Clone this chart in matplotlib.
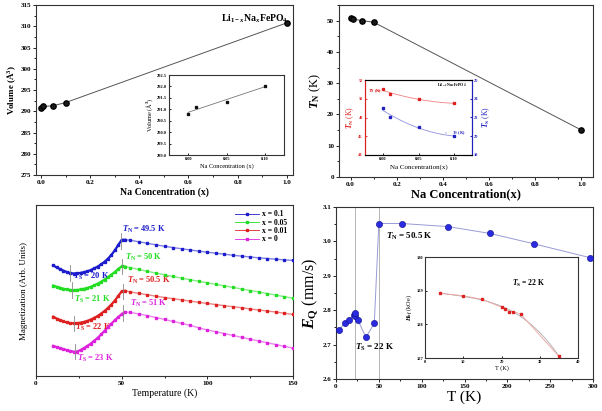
import numpy as np
import matplotlib
matplotlib.use("Agg")
import matplotlib.pyplot as plt
from matplotlib.ticker import AutoMinorLocator, MultipleLocator

plt.rcParams['font.family'] = ['Liberation Serif', 'DejaVu Serif']
plt.rcParams['font.weight'] = 'bold'
plt.rcParams['mathtext.fontset'] = 'custom'
plt.rcParams['mathtext.rm'] = 'Liberation Serif:bold'
plt.rcParams['mathtext.it'] = 'Liberation Serif:italic:bold'
plt.rcParams['mathtext.bf'] = 'Liberation Serif:bold'
plt.rcParams['axes.linewidth'] = 0.8

# ---------------- Data ----------------
# (a) Volume vs Na concentration
na_x = [0.0, 0.01, 0.05, 0.10, 1.0]
volume = [290.8, 291.12, 291.31, 292.03, 310.8]
ins_x = [0.0, 0.01, 0.05, 0.10]
ins_vol = [290.8, 291.12, 291.31, 292.03]

# (b) T_N vs Na concentration
tn_x = [0.0, 0.01, 0.05, 0.10, 1.0]
tn_val = [51.0, 50.5, 50.0, 49.5, 15.0]
ins_tn_x = [0.0, 0.01, 0.05, 0.10]
ins_tn = [51.0, 50.5, 50.0, 49.5]
ins_ts = [23.0, 22.0, 21.0, 20.0]

# (c) Magnetization curves
T_low = [10, 12, 14, 16, 18, 20, 22, 24, 26, 28, 30, 32, 34, 36, 38, 40, 42, 44, 46, 48, 50, 52]
T_high = [55, 60, 65, 70, 75, 80, 85, 90, 95, 100, 105, 110, 115, 120, 125, 130, 135, 140, 145, 150]
M_01_low = [64.7, 63.5, 62.5, 61.6, 60.8, 60.2, 59.9, 60.0, 60.3, 60.7, 61.2, 62.0, 62.9, 64.0, 65.3, 66.8, 68.6, 70.8, 73.5, 76.6, 79.6, 79.7]
M_01_high = [79.4, 78.5, 77.6, 76.7, 75.9, 75.1, 74.4, 73.7, 73.0, 72.4, 71.8, 71.2, 70.6, 70.1, 69.6, 69.1, 68.7, 68.3, 67.9, 67.6]
M_005_low = [52.9, 52.2, 51.6, 51.0, 50.6, 50.3, 50.2, 50.3, 50.6, 51.0, 51.5, 52.2, 53.0, 54.0, 55.1, 56.4, 57.8, 59.3, 60.8, 62.5, 64.1, 64.0]
M_005_high = [63.4, 62.3, 61.2, 60.2, 59.2, 58.2, 57.2, 56.3, 55.4, 54.5, 53.6, 52.7, 51.8, 50.9, 50.0, 49.1, 48.2, 47.3, 46.4, 45.5]
M_001_low = [34.7, 33.6, 32.7, 31.9, 31.3, 30.9, 30.8, 30.9, 31.2, 31.6, 32.2, 33.0, 34.0, 35.1, 36.5, 38.0, 39.8, 41.8, 44.1, 46.8, 49.5, 49.8]
M_001_high = [49.2, 48.3, 47.5, 46.7, 45.9, 45.2, 44.5, 43.8, 43.1, 42.4, 41.8, 41.1, 40.5, 39.9, 39.2, 38.6, 38.0, 37.4, 36.7, 36.0]
M_0_low = [17.6, 16.9, 16.3, 15.7, 15.1, 14.6, 14.2, 14.3, 15.2, 16.3, 17.6, 19.0, 20.6, 22.3, 24.3, 26.4, 28.5, 30.6, 32.6, 34.4, 36.2, 37.4]
M_0_high = [37.2, 36.3, 35.3, 34.2, 33.1, 31.9, 30.8, 29.6, 28.2, 26.9, 25.9, 24.8, 23.7, 22.6, 21.5, 20.5, 19.4, 18.4, 17.3, 16.3]
c_labels = ['x = 0.1', 'x = 0.05', 'x = 0.01', 'x = 0']
c_colors = ['#1c1ccc', '#22dd22', '#dd2020', '#dd22dd']
c_TN = [49.5, 50, 50.5, 51]
c_TS = [20, 21, 22, 23]

# (d) Quadrupole splitting
d_T = [4, 10, 15, 20.5, 21.6, 22.3, 25.4, 35, 44.7, 50, 77, 131, 180, 231, 296]
d_EQ = [2.743, 2.762, 2.771, 2.785, 2.782, 2.791, 2.772, 2.721, 2.762, 3.052, 3.052, 3.043, 3.023, 2.993, 2.953]
d_vlines = [22, 50]
ins_d_T = [4, 10, 15, 20, 21, 22, 23, 25, 35]
ins_d_H = [128.92, 128.85, 128.74, 128.51, 128.45, 128.38, 128.38, 128.31, 127.05]

# ---------------- Figure ----------------
W, H = 602, 411
fig = plt.figure(figsize=(W / 100, H / 100), dpi=100)


def rect(l, t, r, b):
    return [l / W, 1 - b / H, (r - l) / W, (b - t) / H]


def style(ax, fs=5, direction='out', length=2.0):
    ax.tick_params(which='both', direction=direction, labelsize=fs, width=0.6, pad=1.5)
    ax.tick_params(which='major', length=length)
    ax.tick_params(which='minor', length=length * 0.6)
    for s in ax.spines.values():
        s.set_color('#333333')
    for lab in ax.get_xticklabels() + ax.get_yticklabels():
        lab.set_fontweight('bold')


# ---- (a)
axA = fig.add_axes(rect(36, 5, 293, 175))
axA.plot(na_x, volume, '-', color='#555555', lw=0.7, zorder=2)
axA.plot(na_x, volume, 'o', color='#1a1a1a', mec='#000000', ms=3.8, zorder=3)
axA.set_xlim(-0.02, 1.025)
axA.set_ylim(275, 315)
axA.xaxis.set_major_locator(MultipleLocator(0.2))
axA.yaxis.set_major_locator(MultipleLocator(5))
axA.xaxis.set_minor_locator(AutoMinorLocator(2))
axA.yaxis.set_minor_locator(AutoMinorLocator(2))
style(axA)
axA.set_xlabel('Na Concentration (x)', fontsize=7, fontweight='bold', labelpad=2)
axA.set_ylabel('Volume (Å$^3$)', fontsize=6.5, fontweight='bold', labelpad=2)
axA.text(0.87, 311.8, 'Li$_{1-x}$Na$_x$FePO$_4$', fontsize=7, ha='center', va='center')

axAi = fig.add_axes(rect(169, 75, 284, 155))
coef = np.polyfit(ins_x, ins_vol, 1)
xx = np.array([min(ins_x), max(ins_x)])
axAi.plot(xx, np.polyval(coef, xx), '-', color='#777777', lw=0.6)
axAi.plot(ins_x, ins_vol, 's', color='#111111', ms=1.6)
axAi.set_xlim(-0.025, 0.125)
axAi.set_ylim(289.0, 292.5)
axAi.set_xticks([0.0, 0.05, 0.10])
axAi.set_xticklabels(['0.00', '0.05', '0.10'])
axAi.yaxis.set_major_locator(MultipleLocator(0.5))
axAi.yaxis.set_major_formatter(matplotlib.ticker.FormatStrFormatter('%.1f'))
style(axAi, fs=3.2, direction='in', length=1.5)
axAi.set_xlabel('Na Concentration (x)', fontsize=4.5, labelpad=1.5)
axAi.set_ylabel('Volume (Å$^3$)', fontsize=4.5, labelpad=1.5)

# ---- (b)
axB = fig.add_axes(rect(339, 5, 593, 177))
axB.plot(tn_x, tn_val, '-', color='#555555', lw=0.7, zorder=2)
axB.plot(tn_x, tn_val, 'o', color='#1a1a1a', mec='#000000', ms=3.8, zorder=3)
axB.set_xlim(-0.05, 1.05)
axB.set_ylim(0, 55)
axB.xaxis.set_major_locator(MultipleLocator(0.2))
axB.yaxis.set_major_locator(MultipleLocator(10))
axB.xaxis.set_minor_locator(AutoMinorLocator(2))
axB.yaxis.set_minor_locator(AutoMinorLocator(2))
style(axB)
axB.set_xlabel('Na Concentration(x)', fontsize=9, fontweight='bold', labelpad=1)
axB.set_ylabel('$T_\\mathrm{N}$ (K)', fontsize=9, labelpad=3)

axBi = fig.add_axes(rect(365, 80, 472, 155))
c1 = np.polyfit(ins_tn_x, ins_tn, 2)
c2 = np.polyfit(ins_tn_x, ins_ts, 2)
xs = np.linspace(min(ins_tn_x), max(ins_tn_x), 60)
axBi.plot(xs, np.polyval(c1, xs), '-', color='#f08080', lw=0.6)
axBi.plot(ins_tn_x, ins_tn, 's', color='#dd2020', ms=1.6)
axBi.set_xlim(-0.025, 0.125)
axBi.set_ylim(44, 52)
axBi.set_yticks([44, 46, 48, 50, 52])
axBi.set_xticks([0.0, 0.05, 0.10])
axBi.set_xticklabels(['0.00', '0.05', '0.10'])
style(axBi, fs=3.2, direction='in', length=1.5)
axBi.tick_params(axis='y', colors='#dd2020')
axBi.spines['left'].set_color('#dd2020')
axBi.set_ylabel('$T_\\mathrm{N}$ (K)', fontsize=5.5, color='#dd2020', labelpad=1.5)
axBi.set_xlabel('Na Concentration(x)', fontsize=5, labelpad=2)
axBr = axBi.twinx()
axBr.plot(xs, np.polyval(c2, xs), '-', color='#9090e0', lw=0.6)
axBr.plot(ins_tn_x, ins_ts, 's', color='#2020c0', ms=1.6)
axBr.set_ylim(18, 26)
axBr.set_yticks([18, 20, 22, 24, 26])
axBr.tick_params(axis='y', which='both', direction='in', labelsize=3.2, colors='#2020c0', length=1.5, pad=1.5)
axBr.spines['right'].set_color('#2020c0')
axBr.spines['left'].set_color('#dd2020')
axBr.set_ylabel('$T_\\mathrm{S}$ (K)', fontsize=5.5, color='#2020c0', labelpad=1.5)
axBi.text(0.118, 51.4, 'Li$_{1-x}$Na$_x$FePO$_4$', fontsize=3, ha='right', va='center')
axBi.annotate('$T_\\mathrm{N}$ (K)', xy=(ins_tn_x[0] - 0.004, ins_tn[0] - 0.15),
              xytext=(-0.021, ins_tn[0] - 0.15), fontsize=3.2, color='#dd2020', va='center',
              arrowprops=dict(arrowstyle='-', color='#dd2020', lw=0.4))
axBr.annotate('$T_\\mathrm{S}$ (K)', xy=(0.088, ins_ts[-1] + 0.35),
              xytext=(0.097, ins_ts[-1] + 0.35), fontsize=3.2, color='#2020c0', va='center',
              arrowprops=dict(arrowstyle='-', color='#2020c0', lw=0.4))

# ---- (c)
axC = fig.add_axes(rect(36, 205, 293, 376))
series = [(M_01_low, M_01_high), (M_005_low, M_005_high), (M_001_low, M_001_high), (M_0_low, M_0_high)]
for (lo, hi), col, lab, tn, ts in zip(series, c_colors, c_labels, c_TN, c_TS):
    T = np.array(T_low + T_high, dtype=float)
    M = np.array(lo + hi, dtype=float)
    axC.plot(T, M, '-', color=col, lw=1.0, alpha=0.55, zorder=2)
    axC.plot(T_low, lo, '-', color=col, lw=1.6, zorder=3)
    axC.plot(T, M, 's', color=col, ms=1.5, label=lab, zorder=4)
    for tv in (ts, tn):
        yv = np.interp(tv, T, M)
        axC.plot([tv, tv], [yv - 4.5, yv + 4.5], '-', color='#888888', lw=0.6, zorder=5)
handles = [plt.Line2D([], [], color=c, lw=0.6, marker='s', ms=1.5) for c in c_colors]
leg = axC.legend(handles, c_labels, loc='upper right', fontsize=5.5, frameon=False,
                 handlelength=3.2, labelspacing=0.05, borderaxespad=0.3, handletextpad=0.4)
c_tn_pos = [(50, 85.5), (52, 69.6), (53, 55.8), (55, 42.4)]
c_ts_pos = [(21.5, 58.0), (22, 44.8), (23, 28.3), (24, 10.3)]
for col, tn, ts, p1, p2 in zip(c_colors, c_TN, c_TS, c_tn_pos, c_ts_pos):
    axC.text(p1[0], p1[1], '$T_\\mathrm{N}$ = %g K' % tn, color=col, fontsize=6, ha='left', va='center')
    axC.text(p2[0], p2[1], '$T_\\mathrm{S}$ = %g K' % ts, color=col, fontsize=6, ha='left', va='center')
axC.set_xlim(0, 150)
axC.set_ylim(0, 100)
axC.set_xticks([0, 50, 100, 150])
axC.xaxis.set_minor_locator(AutoMinorLocator(2))
axC.set_yticks([])
style(axC)
axC.set_xlabel('Temperature (K)', fontsize=7, labelpad=2)
axC.set_ylabel('Magnetization (Arb. Units)', fontsize=6.5, labelpad=6)

# ---- (d)
axD = fig.add_axes(rect(336, 207, 593, 379))
for v in d_vlines:
    axD.axvline(v, color='#aaaaaa', lw=0.6, zorder=1)
axD.plot(d_T, d_EQ, '-', color='#9a9ad8', lw=0.7, zorder=2)
axD.plot(d_T, d_EQ, 'o', color='#2a2ae0', mec='#10108a', mew=0.4, ms=4.5, zorder=3)
axD.set_xlim(0, 300)
axD.set_ylim(2.6, 3.1)
axD.xaxis.set_major_locator(MultipleLocator(50))
axD.yaxis.set_major_locator(MultipleLocator(0.1))
axD.xaxis.set_minor_locator(AutoMinorLocator(2))
axD.yaxis.set_minor_locator(AutoMinorLocator(2))
style(axD)
axD.set_xlabel('T (K)', fontsize=11, labelpad=1)
axD.set_ylabel('$E_\\mathrm{Q}$ (mm/s)', fontsize=11.5, labelpad=2)
axD.text(58, 3.014, '$T_\\mathrm{N}$ = 50.5 K', fontsize=6.5, ha='left', va='center')
axD.text(22, 2.693, '$T_\\mathrm{S}$ = 22 K', fontsize=6.5, ha='left', va='center')

axDi = fig.add_axes(rect(425, 257, 578, 358))
cf = np.polyfit(ins_d_T, ins_d_H, 3)
ts_ = np.linspace(min(ins_d_T), max(ins_d_T), 100)
axDi.plot(ts_, np.polyval(cf, ts_), '-', color='#aaaaaa', lw=0.6)
axDi.plot(ins_d_T, ins_d_H, '-', color='#f0a0a0', lw=0.6)
axDi.plot(ins_d_T, ins_d_H, 's', color='#dd2020', ms=1.6)
axDi.set_xlim(0, 40)
axDi.set_ylim(127, 130)
axDi.set_xticks([0, 10, 20, 30, 40])
axDi.set_yticks([127, 128, 129, 130])
style(axDi, fs=3.2, direction='in', length=1.5)
axDi.set_xlabel('T (K)', fontsize=4.5, labelpad=0.5)
axDi.set_ylabel('$H_{hf}$ (kOe)', fontsize=4.5, labelpad=1)
axDi.text(27, 129.21, '$T_\\mathrm{S}$ = 22 K', fontsize=5.5, ha='center', va='center')

fig.savefig('out.png', dpi=100)
